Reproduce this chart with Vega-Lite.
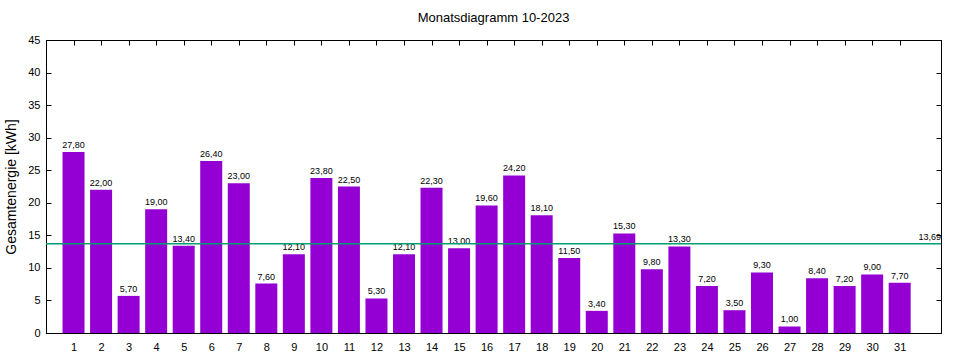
{
  "$schema": "https://vega.github.io/schema/vega-lite/v6.json",
  "width": 895,
  "height": 293,
  "autosize": "none",
  "padding": {"left": 46, "top": 40, "right": 19, "bottom": 27},
  "title": {"text": "Monatsdiagramm 10-2023", "fontSize": 13, "fontWeight": "normal", "font": "Liberation Sans", "offset": 9, "color": "black"},
  "config": {
    "locale": {"number": {"decimal": ",", "thousands": ".", "grouping": [3], "currency": ["", " €"]}},
    "view": {"stroke": "black", "strokeWidth": 1},
    "font": "Liberation Sans",
    "axis": {"grid": false, "domainColor": "black", "tickColor": "black", "labelColor": "black", "titleColor": "black", "labelFont": "Liberation Sans", "labelFontSize": 11, "ticks": true, "tickSize": -5, "tickWidth": 1, "labelFlush": false}
  },
  "datasets": {
    "days": [
      {"day": 1, "energy": 27.8}, {"day": 2, "energy": 22.0}, {"day": 3, "energy": 5.7},
      {"day": 4, "energy": 19.0}, {"day": 5, "energy": 13.4}, {"day": 6, "energy": 26.4},
      {"day": 7, "energy": 23.0}, {"day": 8, "energy": 7.6}, {"day": 9, "energy": 12.1},
      {"day": 10, "energy": 23.8}, {"day": 11, "energy": 22.5}, {"day": 12, "energy": 5.3},
      {"day": 13, "energy": 12.1}, {"day": 14, "energy": 22.3}, {"day": 15, "energy": 13.0},
      {"day": 16, "energy": 19.6}, {"day": 17, "energy": 24.2}, {"day": 18, "energy": 18.1},
      {"day": 19, "energy": 11.5}, {"day": 20, "energy": 3.4}, {"day": 21, "energy": 15.3},
      {"day": 22, "energy": 9.8}, {"day": 23, "energy": 13.3}, {"day": 24, "energy": 7.2},
      {"day": 25, "energy": 3.5}, {"day": 26, "energy": 9.3}, {"day": 27, "energy": 1.0},
      {"day": 28, "energy": 8.4}, {"day": 29, "energy": 7.2}, {"day": 30, "energy": 9.0},
      {"day": 31, "energy": 7.7}
    ],
    "avg": [{"avg": 13.69}]
  },
  "layer": [
    {
      "data": {"name": "days"},
      "mark": {"type": "bar", "color": "#9400d3", "size": 22},
      "encoding": {
        "x": {"field": "day", "type": "quantitative", "scale": {"domain": [0, 32.5], "nice": false, "zero": false, "padding": 0},
          "axis": {"orient": "bottom", "values": [1,2,3,4,5,6,7,8,9,10,11,12,13,14,15,16,17,18,19,20,21,22,23,24,25,26,27,28,29,30,31], "title": null, "labelPadding": 13}},
        "y": {"field": "energy", "type": "quantitative", "scale": {"domain": [0, 45], "nice": false, "padding": 0},
          "axis": {"orient": "left", "values": [0,5,10,15,20,25,30,35,40,45], "title": "Gesamtenergie [kWh]", "titleFontSize": 14, "titleFontWeight": "normal", "titleFont": "Liberation Sans", "labelPadding": 11, "titlePadding": 9}}
      }
    },
    {
      "data": {"name": "days"},
      "mark": {"type": "text", "baseline": "bottom", "dy": -2, "fontSize": 9, "color": "black"},
      "encoding": {
        "x": {"field": "day", "type": "quantitative",
          "axis": {"orient": "top", "values": [1,2,3,4,5,6,7,8,9,10,11,12,13,14,15,16,17,18,19,20,21,22,23,24,25,26,27,28,29,30,31], "labels": false, "title": null}},
        "y": {"field": "energy", "type": "quantitative",
          "axis": {"orient": "right", "values": [0,5,10,15,20,25,30,35,40,45], "labels": false, "title": null}},
        "text": {"field": "energy", "type": "quantitative", "format": ".2f"}
      }
    },
    {
      "data": {"name": "avg"},
      "mark": {"type": "rule", "color": "#009e73", "strokeWidth": 1.5},
      "encoding": {"y": {"field": "avg", "type": "quantitative", "axis": null}}
    },
    {
      "data": {"name": "avg"},
      "mark": {"type": "text", "align": "right", "baseline": "bottom", "dy": -2, "fontSize": 9, "color": "black"},
      "encoding": {
        "x": {"datum": 32.5, "axis": null},
        "y": {"field": "avg", "type": "quantitative", "axis": null},
        "text": {"field": "avg", "type": "quantitative", "format": ".2f"}
      }
    }
  ],
  "resolve": {"axis": {"x": "independent", "y": "independent"}}
}
